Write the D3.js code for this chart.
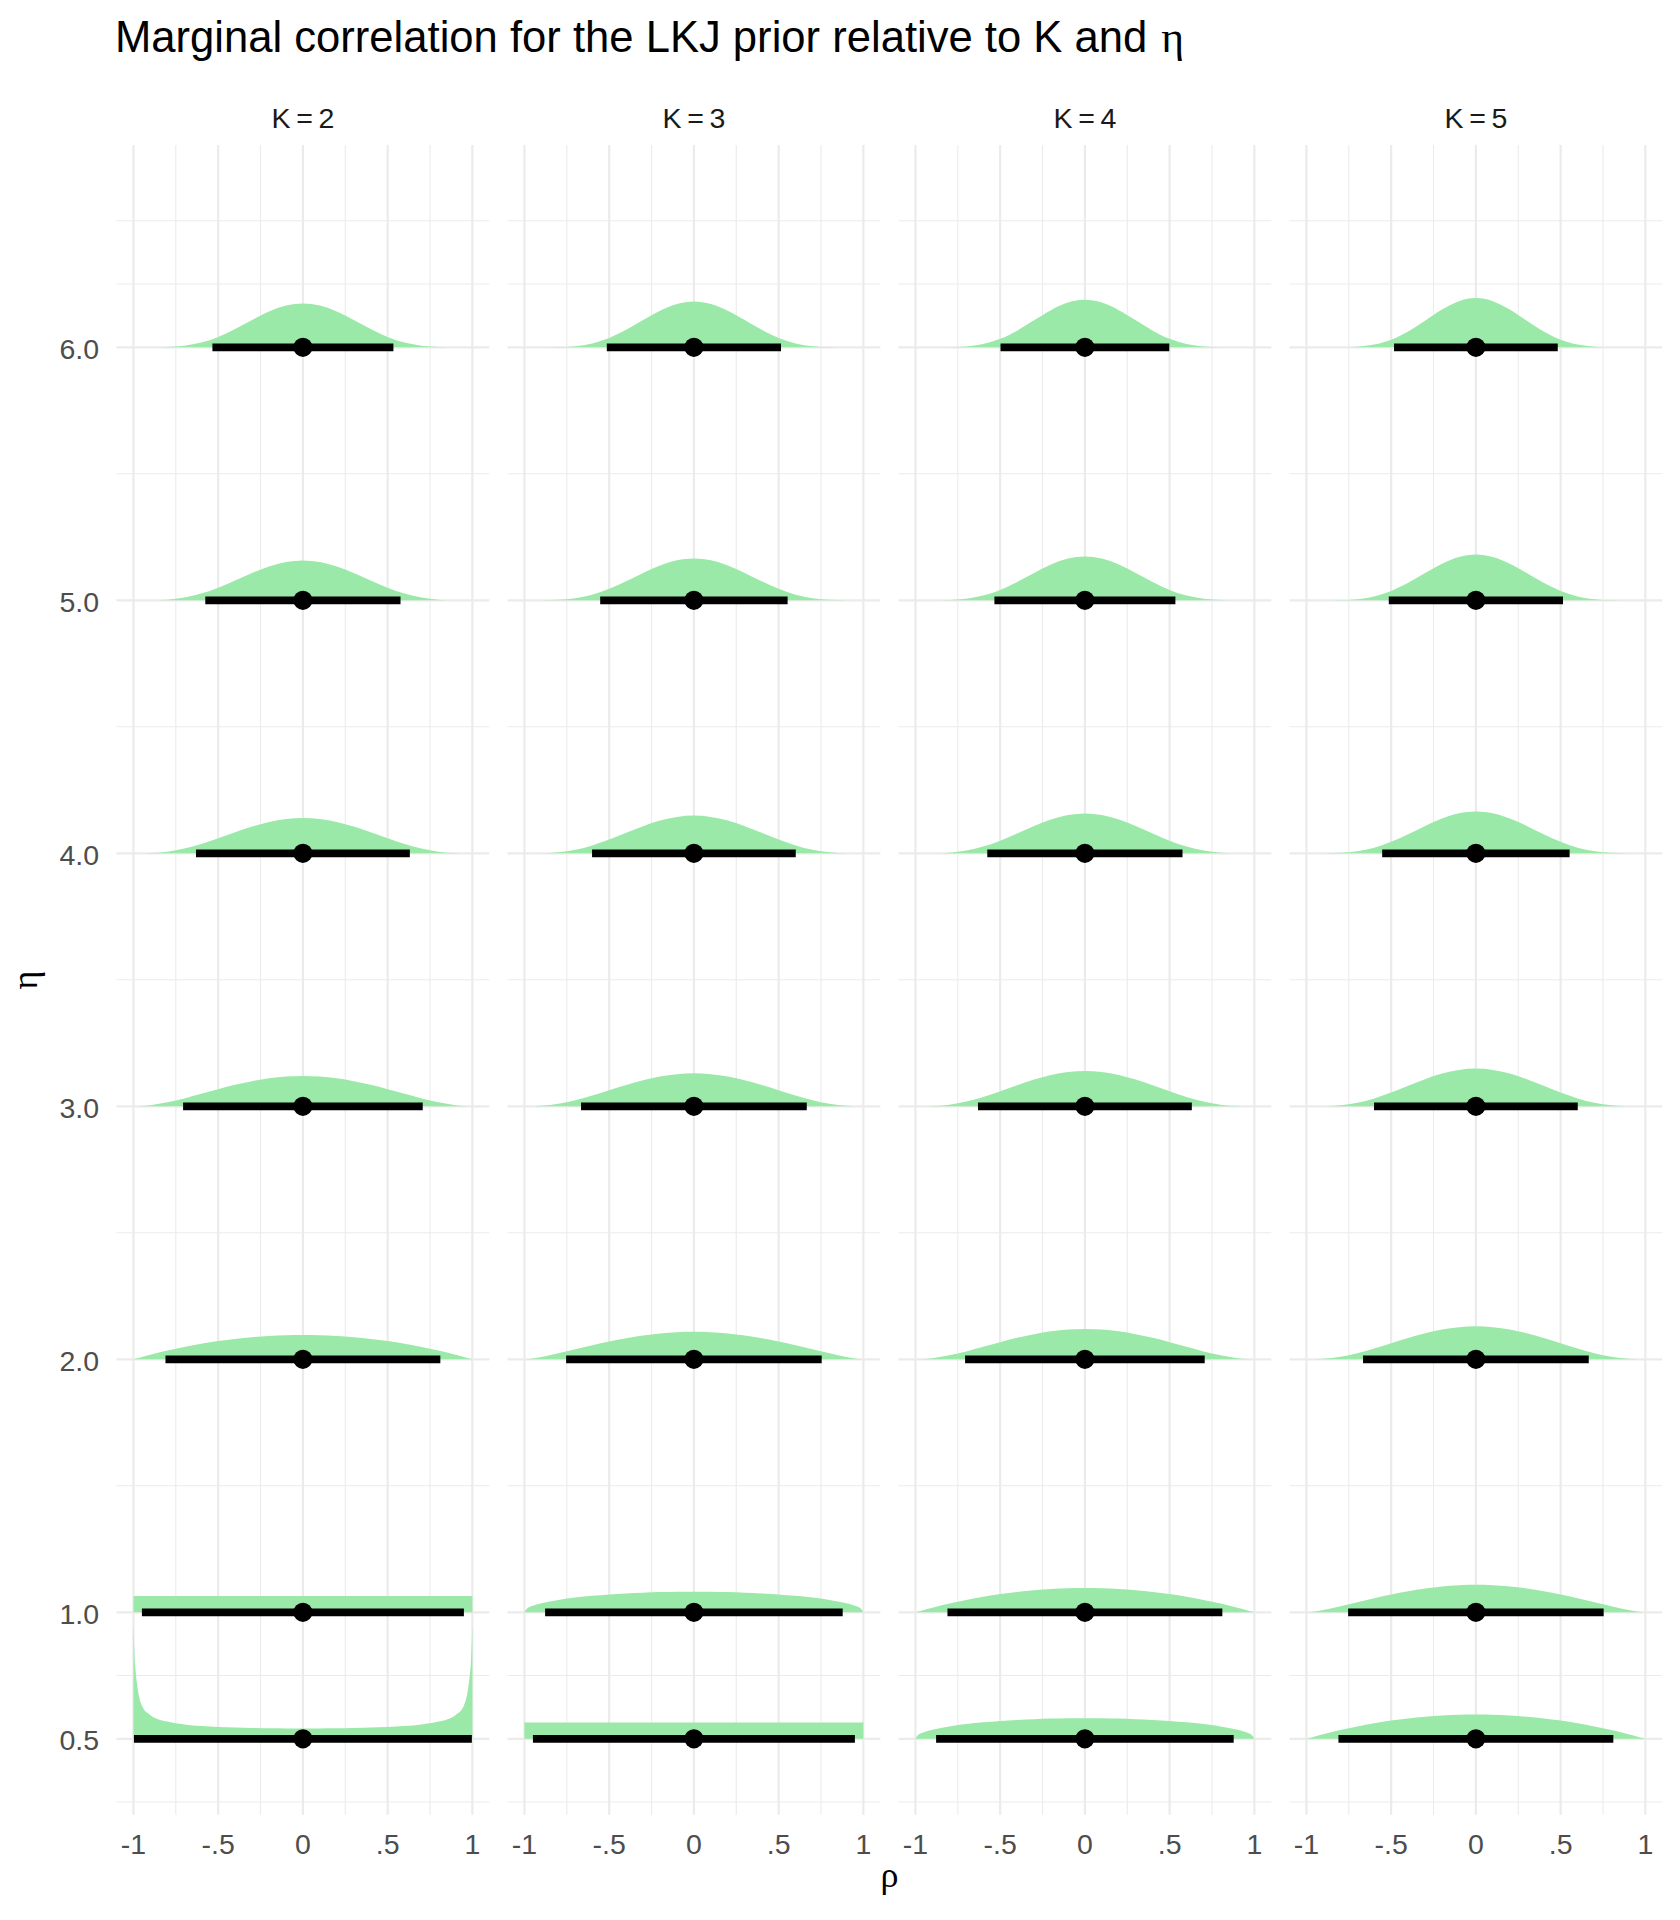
<!DOCTYPE html>
<html><head><meta charset="utf-8">
<script src="https://cdn.jsdelivr.net/npm/d3@7"></script>
<style>
body{margin:0;background:#fff}
svg text{font-family:"Liberation Sans",Arial,sans-serif}
.serif{font-family:"Liberation Serif","DejaVu Serif",serif}
</style>
</head><body><svg id="chart" width="1680" height="1920"></svg>
<script>
// ---- data ----
const Ks = [2, 3, 4, 5];
const stripLabels = ["K\u2009=\u20092", "K\u2009=\u20093", "K\u2009=\u20094", "K\u2009=\u20095"];
const etaValues = [0.5, 1, 2, 3, 4, 5, 6];
const etaTickLabels = ["0.5", "1.0", "2.0", "3.0", "4.0", "5.0", "6.0"];
const etaMinor = [0.25, 0.75, 1.5, 2.5, 3.5, 4.5, 5.5, 6.25, 6.5];
const rhoTicks = [-1, -0.5, 0, 0.5, 1];
const rhoTickLabels = ["-1", "-.5", "0", ".5", "1"];
const rhoMinor = [-0.75, -0.25, 0.25, 0.75];

// rho positions at which slab heights (in eta units) were read
const rhoGrid = [-1, -0.99, -0.95, -0.9, -0.8, -0.7, -0.6, -0.5, -0.4, -0.3, -0.2, -0.1, 0,
                 0.1, 0.2, 0.3, 0.4, 0.5, 0.6, 0.7, 0.8, 0.9, 0.95, 0.99, 1];

// slab heights per facet, one row per eta (0.5, 1, 2, 3, 4, 5, 6)
const slabK2 = [
  [.452,.2888,.1305,.0935,.0679,.0570,.0509,.0470,.0445,.0427,.0416,.0409,.0407,.0409,.0416,.0427,.0445,.0470,.0509,.0570,.0679,.0935,.1305,.2888,.452],
  [.064,.064,.064,.064,.064,.064,.064,.064,.064,.064,.064,.064,.064,.064,.064,.064,.064,.064,.064,.064,.064,.064,.064,.064,.064],
  [0,.0019,.0094,.0182,.0346,.0490,.0614,.0720,.0806,.0874,.0922,.0950,.0960,.0950,.0922,.0874,.0806,.0720,.0614,.0490,.0346,.0182,.0094,.0019,0],
  [0,0,.0011,.0043,.0156,.0312,.0492,.0675,.0847,.0994,.1106,.1176,.1200,.1176,.1106,.0994,.0847,.0675,.0492,.0312,.0156,.0043,.0011,0,0],
  [0,0,.0001,.0010,.0065,.0186,.0367,.0591,.0830,.1055,.1239,.1358,.1400,.1358,.1239,.1055,.0830,.0591,.0367,.0186,.0065,.0010,.0001,0,0],
  [0,0,0,.0002,.0026,.0107,.0264,.0498,.0784,.1080,.1338,.1513,.1575,.1513,.1338,.1080,.0784,.0498,.0264,.0107,.0026,.0002,0,0,0],
  [0,0,0,0,.0010,.0060,.0186,.0411,.0725,.1081,.1413,.1648,.1733,.1648,.1413,.1081,.0725,.0411,.0186,.0060,.0010,0,0,0,0]
];
const slabK3 = [
  [.064,.064,.064,.064,.064,.064,.064,.064,.064,.064,.064,.064,.064,.064,.064,.064,.064,.064,.064,.064,.064,.064,.064,.064,.064],
  [0,.0115,.0254,.0355,.0489,.0582,.0652,.0706,.0747,.0777,.0798,.0811,.0815,.0811,.0798,.0777,.0747,.0706,.0652,.0582,.0489,.0355,.0254,.0115,0],
  [0,.0003,.0033,.0090,.0235,.0396,.0556,.0706,.0836,.0943,.1022,.1070,.1087,.1070,.1022,.0943,.0836,.0706,.0556,.0396,.0235,.0090,.0033,.0003,0],
  [0,0,.0004,.0021,.0101,.0242,.0427,.0635,.0843,.1030,.1177,.1271,.1304,.1271,.1177,.1030,.0843,.0635,.0427,.0242,.0101,.0021,.0004,0,0],
  [0,0,0,.0004,.0042,.0141,.0312,.0544,.0809,.1071,.1292,.1439,.1490,.1439,.1292,.1071,.0809,.0544,.0312,.0141,.0042,.0004,0,0,0],
  [0,0,0,.0001,.0017,.0080,.0222,.0454,.0755,.1083,.1378,.1582,.1656,.1582,.1378,.1083,.0755,.0454,.0222,.0080,.0017,.0001,0,0,0],
  [0,0,0,0,.0007,.0045,.0155,.0371,.0692,.1075,.1443,.1709,.1806,.1709,.1443,.1075,.0692,.0371,.0155,.0045,.0007,0,0,0,0]
];
const slabK4 = [
  [0,.0115,.0254,.0355,.0489,.0582,.0652,.0706,.0747,.0777,.0798,.0811,.0815,.0811,.0798,.0777,.0747,.0706,.0652,.0582,.0489,.0355,.0254,.0115,0],
  [0,.0019,.0094,.0182,.0346,.0490,.0614,.0720,.0806,.0874,.0922,.0950,.0960,.0950,.0922,.0874,.0806,.0720,.0614,.0490,.0346,.0182,.0094,.0019,0],
  [0,0,.0011,.0043,.0156,.0312,.0492,.0675,.0847,.0994,.1106,.1176,.1200,.1176,.1106,.0994,.0847,.0675,.0492,.0312,.0156,.0043,.0011,0,0],
  [0,0,.0001,.0010,.0065,.0186,.0367,.0591,.0830,.1055,.1239,.1358,.1400,.1358,.1239,.1055,.0830,.0591,.0367,.0186,.0065,.0010,.0001,0,0],
  [0,0,0,.0002,.0026,.0107,.0264,.0498,.0784,.1080,.1338,.1513,.1575,.1513,.1338,.1080,.0784,.0498,.0264,.0107,.0026,.0002,0,0,0],
  [0,0,0,0,.0010,.0060,.0186,.0411,.0725,.1081,.1413,.1648,.1733,.1648,.1413,.1081,.0725,.0411,.0186,.0060,.0010,0,0,0,0],
  [0,0,0,0,.0004,.0033,.0129,.0334,.0659,.1066,.1469,.1767,.1877,.1767,.1469,.1066,.0659,.0334,.0129,.0033,.0004,0,0,0,0]
];
const slabK5 = [
  [0,.0019,.0094,.0182,.0346,.0490,.0614,.0720,.0806,.0874,.0922,.0950,.0960,.0950,.0922,.0874,.0806,.0720,.0614,.0490,.0346,.0182,.0094,.0019,0],
  [0,.0003,.0033,.0090,.0235,.0396,.0556,.0706,.0836,.0943,.1022,.1070,.1087,.1070,.1022,.0943,.0836,.0706,.0556,.0396,.0235,.0090,.0033,.0003,0],
  [0,0,.0004,.0021,.0101,.0242,.0427,.0635,.0843,.1030,.1177,.1271,.1304,.1271,.1177,.1030,.0843,.0635,.0427,.0242,.0101,.0021,.0004,0,0],
  [0,0,0,.0004,.0042,.0141,.0312,.0544,.0809,.1071,.1292,.1439,.1490,.1439,.1292,.1071,.0809,.0544,.0312,.0141,.0042,.0004,0,0,0],
  [0,0,0,.0001,.0017,.0080,.0222,.0454,.0755,.1083,.1378,.1582,.1656,.1582,.1378,.1083,.0755,.0454,.0222,.0080,.0017,.0001,0,0,0],
  [0,0,0,0,.0007,.0045,.0155,.0371,.0692,.1075,.1443,.1709,.1806,.1709,.1443,.1075,.0692,.0371,.0155,.0045,.0007,0,0,0,0],
  [0,0,0,0,.0003,.0024,.0107,.0300,.0626,.1054,.1492,.1822,.1945,.1822,.1492,.1054,.0626,.0300,.0107,.0024,.0003,0,0,0,0]
];

// 95% intervals and medians, one value per eta
const lowerK2 = [-0.997, -0.95, -0.811, -0.707, -0.631, -0.576, -0.534];
const upperK2 = [0.997, 0.95, 0.811, 0.707, 0.631, 0.576, 0.534];
const lowerK3 = [-0.95, -0.878, -0.754, -0.666, -0.601, -0.553, -0.514];
const upperK3 = [0.95, 0.878, 0.754, 0.666, 0.601, 0.553, 0.514];
const lowerK4 = [-0.878, -0.811, -0.707, -0.631, -0.576, -0.534, -0.498];
const upperK4 = [0.878, 0.811, 0.707, 0.631, 0.576, 0.534, 0.498];
const lowerK5 = [-0.811, -0.754, -0.666, -0.601, -0.553, -0.514, -0.483];
const upperK5 = [0.811, 0.754, 0.666, 0.601, 0.553, 0.514, 0.483];
const medianK2 = [0, 0, 0, 0, 0, 0, 0];
const medianK3 = [0, 0, 0, 0, 0, 0, 0];
const medianK4 = [0, 0, 0, 0, 0, 0, 0];
const medianK5 = [0, 0, 0, 0, 0, 0, 0];

const facets = [
  {K: 2, slab: slabK2, lo: lowerK2, hi: upperK2, med: medianK2},
  {K: 3, slab: slabK3, lo: lowerK3, hi: upperK3, med: medianK3},
  {K: 4, slab: slabK4, lo: lowerK4, hi: upperK4, med: medianK4},
  {K: 5, slab: slabK5, lo: lowerK5, hi: upperK5, med: medianK5}
];

// ---- drawing ----
const svg = d3.select("#chart");
svg.append("rect").attr("width", 1680).attr("height", 1920).attr("fill", "#fff");

const grid = "#EBEBEB";
const slabFill = "#9AE9A8";
const tickCol = "#4D4D4D";

const band = d3.scaleBand().domain(Ks).range([116.5, 1662.3]).paddingInner(0.0465).paddingOuter(0);
const y = d3.scaleLinear().domain([0.2, 6.8]).range([1814.7, 144.9]);
const x = d3.scaleLinear().domain([-1.1, 1.1]).range([0, band.bandwidth()]);

// title
const title = svg.append("text").attr("x", 115).attr("y", 51.7)
  .attr("font-size", 43.6).attr("fill", "#000");
title.append("tspan").text("Marginal correlation for the LKJ prior relative to K and ");
title.append("tspan").attr("class", "serif").attr("dx", 2).text("\u03b7");

facets.forEach((f, i) => {
  const g = svg.append("g").attr("transform", `translate(${band(f.K)},0)`);
  const w = band.bandwidth();

  // strip label
  g.append("text").attr("x", w / 2).attr("y", 127.7).attr("text-anchor", "middle")
    .attr("font-size", 28.5).attr("fill", "#1A1A1A").text(stripLabels[i]);

  // minor grid
  g.selectAll(".vminor").data(rhoMinor).join("line")
    .attr("x1", d => x(d)).attr("x2", d => x(d)).attr("y1", y(6.8)).attr("y2", y(0.2))
    .attr("stroke", grid).attr("stroke-width", 1.1);
  g.selectAll(".hminor").data(etaMinor).join("line")
    .attr("x1", 0).attr("x2", w).attr("y1", d => y(d)).attr("y2", d => y(d))
    .attr("stroke", grid).attr("stroke-width", 1.1);
  // major grid
  g.selectAll(".vmajor").data(rhoTicks).join("line")
    .attr("x1", d => x(d)).attr("x2", d => x(d)).attr("y1", y(6.8)).attr("y2", y(0.2))
    .attr("stroke", grid).attr("stroke-width", 2.2);
  g.selectAll(".hmajor").data(etaValues).join("line")
    .attr("x1", 0).attr("x2", w).attr("y1", d => y(d)).attr("y2", d => y(d))
    .attr("stroke", grid).attr("stroke-width", 2.2);

  // slabs
  etaValues.forEach((eta, j) => {
    const pts = rhoGrid.map((r, k) => [r, f.slab[j][k]]);
    const area = d3.area()
      .x(d => x(d[0]))
      .y0(y(eta))
      .y1(d => y(eta + d[1]))
      .curve(d3.curveMonotoneX);
    g.append("path").attr("d", area(pts)).attr("fill", slabFill);
  });

  // intervals
  etaValues.forEach((eta, j) => {
    g.append("line")
      .attr("x1", x(f.lo[j])).attr("x2", x(f.hi[j]))
      .attr("y1", y(eta)).attr("y2", y(eta))
      .attr("stroke", "#000").attr("stroke-width", 7.7).attr("stroke-linecap", "butt");
    g.append("circle").attr("cx", x(f.med[j])).attr("cy", y(eta)).attr("r", 9.6).attr("fill", "#000");
  });

  // x tick labels
  g.selectAll(".xt").data(rhoTicks).join("text")
    .attr("x", d => x(d)).attr("y", 1854.3).attr("text-anchor", "middle")
    .attr("font-size", 28.5).attr("fill", tickCol)
    .text((d, k) => rhoTickLabels[k]);
});

// y tick labels
svg.selectAll(".yt").data(etaValues).join("text")
  .attr("x", 99).attr("y", d => y(d) + 11.2).attr("text-anchor", "end")
  .attr("font-size", 28.5).attr("fill", tickCol)
  .text((d, k) => etaTickLabels[k]);

// axis titles
svg.append("text").attr("class", "serif").attr("x", 889.4).attr("y", 1887)
  .attr("text-anchor", "middle").attr("font-size", 36).attr("fill", "#000").text("\u03c1");
svg.append("text").attr("class", "serif")
  .attr("transform", "translate(37,980) rotate(-90)")
  .attr("text-anchor", "middle").attr("font-size", 36).attr("fill", "#000").text("\u03b7");
</script>
</body></html>
